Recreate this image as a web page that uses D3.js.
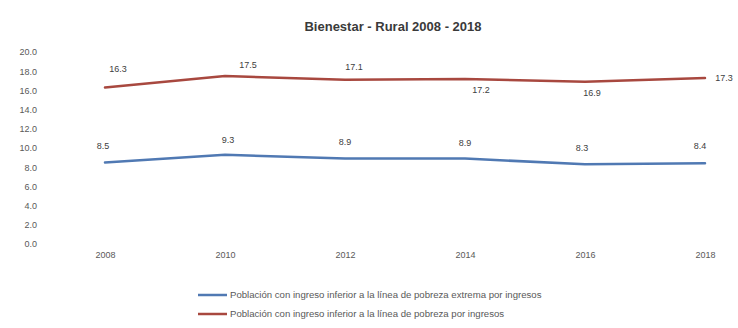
<!DOCTYPE html>
<html>
<head>
<meta charset="utf-8">
<script src="https://cdn.jsdelivr.net/npm/d3@7"></script>
<style>
  html, body { margin: 0; padding: 0; background: #fff; }
  svg { display: block; font-family: "Liberation Sans", Arial, sans-serif; }
</style>
</head>
<body>
<svg id="chart" width="738" height="328"></svg>
<script>
// Years on the horizontal axis
const years = ["2008", "2010", "2012", "2014", "2016", "2018"];
// Share of rural population below the extreme income poverty line (%)
const extremePoverty = [8.5, 9.3, 8.9, 8.9, 8.3, 8.4];
// Share of rural population below the income poverty line (%)
const incomePoverty = [16.3, 17.5, 17.1, 17.2, 16.9, 17.3];
// Vertical axis ticks
const yTicks = [0, 2, 4, 6, 8, 10, 12, 14, 16, 18, 20];
const seriesNames = [
  "Población con ingreso inferior a la línea de pobreza extrema por ingresos",
  "Población con ingreso inferior a la línea de pobreza por ingresos"
];
const chartTitle = "Bienestar - Rural 2008 - 2018";

// Label nudges (dx, dy) for each data label, per series
const labelNudgeBlue = [[-2, -17], [3, -15], [0, -17], [0, -16], [-3, -16], [-5, -18]];
const labelNudgeRed  = [[13, -19], [23, -11], [9, -13], [16, 11], [7, 11], [19, 0]];

const colors = { blue: "#5079b3", red: "#a8483f" };

const svg = d3.select("#chart");

const x = d3.scalePoint().domain(years).range([105, 705]);
const y = d3.scaleLinear().domain([0, 20]).range([244, 52]);

// Title
svg.append("text")
  .attr("x", 393).attr("y", 31)
  .attr("text-anchor", "middle")
  .attr("font-size", 13)
  .attr("font-weight", "bold")
  .attr("fill", "#3a3a3a")
  .text(chartTitle);

// Y axis (labels only)
const yAxis = svg.append("g")
  .attr("transform", "translate(40,0)")
  .call(d3.axisLeft(y).tickValues(yTicks).tickFormat(d3.format(".1f")).tickSize(0).tickPadding(3));
yAxis.select(".domain").remove();
yAxis.selectAll("text").attr("font-size", 9).attr("fill", "#595959").attr("font-family", null);

// X axis (labels only)
const xAxis = svg.append("g")
  .attr("transform", "translate(0,248)")
  .call(d3.axisBottom(x).tickSize(0).tickPadding(4));
xAxis.select(".domain").remove();
xAxis.selectAll("text").attr("font-size", 9).attr("fill", "#595959").attr("font-family", null);

const line = d3.line()
  .x((d, i) => x(years[i]))
  .y(d => y(d));

const series = [
  { values: extremePoverty, color: colors.blue, nudge: labelNudgeBlue },
  { values: incomePoverty, color: colors.red, nudge: labelNudgeRed }
];

series.forEach(s => {
  svg.append("path")
    .datum(s.values)
    .attr("fill", "none")
    .attr("stroke", s.color)
    .attr("stroke-width", 2.5)
    .attr("stroke-linejoin", "round")
    .attr("stroke-linecap", "round")
    .attr("d", line);

  svg.append("g").selectAll("text")
    .data(s.values)
    .join("text")
    .attr("x", (d, i) => x(years[i]) + s.nudge[i][0])
    .attr("y", (d, i) => y(d) + s.nudge[i][1])
    .attr("dy", "0.35em")
    .attr("text-anchor", "middle")
    .attr("font-size", 9)
    .attr("fill", "#404040")
    .text(d => d3.format(".1f")(d));
});

// Legend
const legend = svg.append("g");
seriesNames.forEach((name, i) => {
  const ly = 295 + i * 19;
  const c = i === 0 ? colors.blue : colors.red;
  legend.append("line")
    .attr("x1", 198).attr("x2", 227)
    .attr("y1", ly).attr("y2", ly)
    .attr("stroke", c).attr("stroke-width", 2.5);
  legend.append("text")
    .attr("x", 230).attr("y", ly)
    .attr("dy", "0.35em")
    .attr("font-size", 9.6)
    .attr("fill", "#595959")
    .text(name);
});
</script>
</body>
</html>
